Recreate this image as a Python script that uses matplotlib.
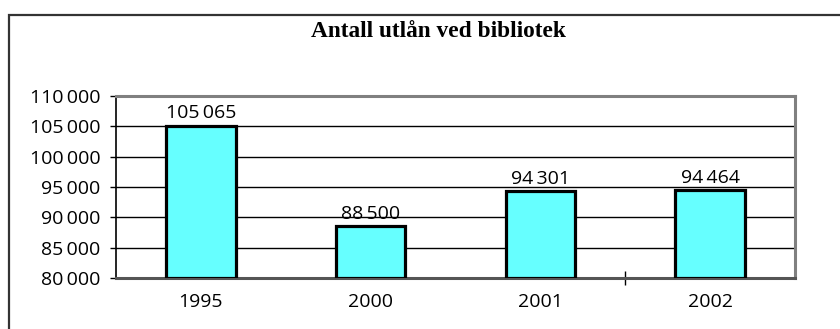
import matplotlib
matplotlib.use("Agg")
import matplotlib.pyplot as plt
from matplotlib.patches import Rectangle
from matplotlib.ticker import FuncFormatter, FixedLocator

plt.rcParams['font.family'] = ['Open Sans', 'DejaVu Sans']

title = "Antall utlån ved bibliotek"
years = ["1995", "2000", "2001", "2002"]
loans = [105065, 88500, 94301, 94464]
y_min, y_max, y_step = 80000, 110000, 5000


def spaced(v):
    return f"{int(round(v)):,}".replace(",", "\u2009")


fig = plt.figure(figsize=(8.4, 3.29), dpi=100)
fig.patch.set_facecolor("white")

# outer chart frame
fig.patches.append(Rectangle((8.5 / 840, -0.1), 1.0, 1.1 - 14.5 / 329,
                             transform=fig.transFigure, fill=False,
                             edgecolor="#333333", linewidth=1.6))

fig.text(438 / 840, 1 - 37 / 329, title, ha="center", va="baseline",
         fontfamily="Liberation Serif", fontweight="bold", fontsize=16.8)

ax = fig.add_axes([116 / 840, 1 - 278 / 329, (795 - 116) / 840, (278 - 96) / 329])
x = list(range(len(years)))
ax.bar(x, [v - y_min for v in loans], bottom=y_min, width=0.41,
       color="#66FFFF", edgecolor="black", linewidth=2.3, zorder=3)

for xi, v in zip(x, loans):
    ax.annotate(spaced(v), (xi, v), xytext=(0, 5.5), textcoords="offset points",
                ha="center", va="baseline", fontsize=14, zorder=4)

ax.set_xlim(-0.5, len(years) - 0.5)
ax.set_ylim(y_min, y_max)
ax.set_yticks(range(y_min, y_max + 1, y_step))
ax.yaxis.set_major_formatter(FuncFormatter(lambda v, p: spaced(v)))
ax.set_xticks(x)
ax.set_xticklabels(years)
ax.xaxis.set_minor_locator(FixedLocator([2.5]))

ax.tick_params(axis="y", direction="out", length=4, width=1, labelsize=14, pad=7)
ax.tick_params(axis="x", which="major", length=0, labelsize=14, pad=11)
ax.tick_params(axis="x", which="minor", direction="inout", length=10, width=1)

for gy in range(y_min + y_step, y_max, y_step):
    ax.axhline(gy, color="black", linewidth=1, zorder=1)

ax.spines["left"].set_color("black")
ax.spines["left"].set_linewidth(1.2)
for s in ("top", "right", "bottom"):
    ax.spines[s].set_color("#808080")
    ax.spines[s].set_linewidth(2.2)
ax.spines["bottom"].set_color("#555555")

fig.savefig("out.png", dpi=100, facecolor="white")
